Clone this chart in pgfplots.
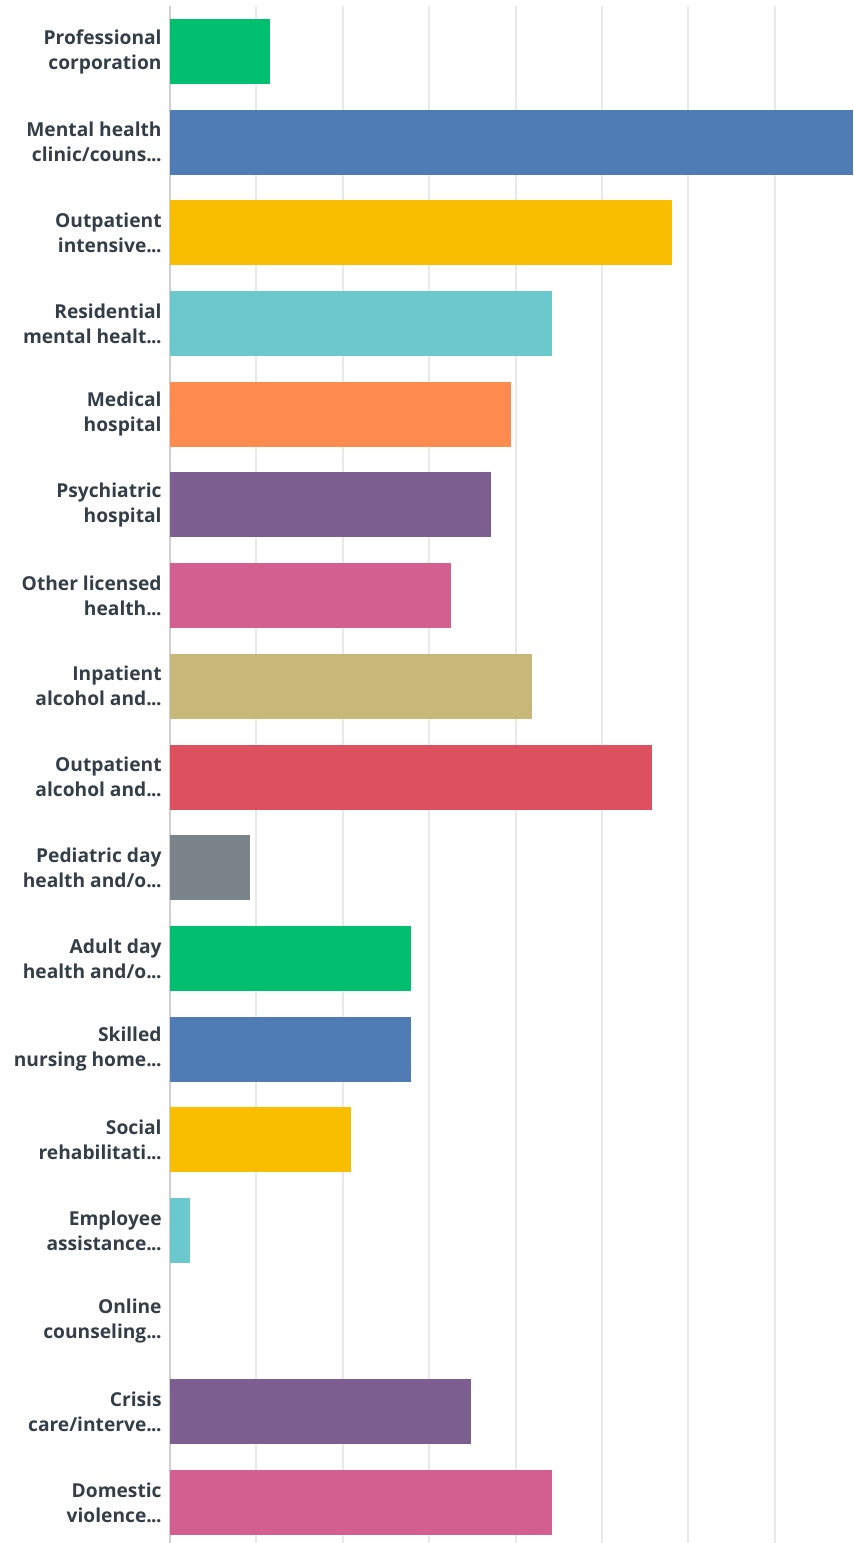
\documentclass[border=0pt]{standalone}
\usepackage{pgfplots}
\pgfplotsset{compat=1.18}
\usepackage{fontspec}
\setmainfont{Open Sans}
\definecolor{txt}{HTML}{333E48}
\definecolor{grd}{HTML}{E9E9E9}
\definecolor{axl}{HTML}{D0D0D0}
\definecolor{c1}{HTML}{00BF6F}
\definecolor{c2}{HTML}{507CB6}
\definecolor{c3}{HTML}{F9BE00}
\definecolor{c4}{HTML}{6BC8CD}
\definecolor{c5}{HTML}{FF8B4F}
\definecolor{c6}{HTML}{7D5E90}
\definecolor{c7}{HTML}{D25F90}
\definecolor{c8}{HTML}{C7B879}
\definecolor{c9}{HTML}{DC5060}
\definecolor{c10}{HTML}{7B848B}
\newcommand{\el}{.\kern-0.3pt.\kern-0.3pt.}
\begin{document}
\begin{tikzpicture}
\begin{axis}[
  scale only axis, width=341.5pt, height=768.5pt,
  xbar, bar width=32.5pt,
  xmin=0, xmax=79.07,
  ymin=-0.502, ymax=16.447, y dir=reverse,
  axis line style={draw=none},
  xtick={10,20,30,40,50,60,70}, xticklabels={},
  xmajorgrids, grid style={draw=grd, line width=1pt},
  extra x ticks={0}, extra x tick labels={},
  extra x tick style={grid style={draw=axl, line width=1pt}},
  major tick length=0pt,
  ytick={0,1,2,3,4,5,6,7,8,9,10,11,12,13,14,15,16},
  yticklabels={
    {Professional\\corporation},
    {Mental health\\clinic/couns\el},
    {Outpatient\\intensive\el},
    {Residential\\mental healt\el},
    {Medical\\hospital},
    {Psychiatric\\hospital},
    {Other licensed\\health\el},
    {Inpatient\\alcohol and\el},
    {Outpatient\\alcohol and\el},
    {Pediatric day\\health and/o\el},
    {Adult day\\health and/o\el},
    {Skilled\\nursing home\el},
    {Social\\rehabilitati\el},
    {Employee\\assistance\el},
    {Online\\counseling\el},
    {Crisis\\care/interve\el},
    {Domestic\\violence\el}},
  yticklabel style={align=right, inner sep=0pt, xshift=-4pt,
    font=\fontsize{9.6}{12.5}\selectfont\bfseries, text=txt},
  every axis plot/.append style={draw=none, bar shift=0pt},
]
\addplot[fill=c1] coordinates {(11.63,0)};
\addplot[fill=c2] coordinates {(79.07,1)};
\addplot[fill=c3] coordinates {(58.14,2)};
\addplot[fill=c4] coordinates {(44.19,3)};
\addplot[fill=c5] coordinates {(39.53,4)};
\addplot[fill=c6] coordinates {(37.21,5)};
\addplot[fill=c7] coordinates {(32.56,6)};
\addplot[fill=c8] coordinates {(41.86,7)};
\addplot[fill=c9] coordinates {(55.81,8)};
\addplot[fill=c10] coordinates {(9.30,9)};
\addplot[fill=c1] coordinates {(27.91,10)};
\addplot[fill=c2] coordinates {(27.91,11)};
\addplot[fill=c3] coordinates {(20.93,12)};
\addplot[fill=c4] coordinates {(2.33,13)};
\addplot[fill=none] coordinates {(0,14)};
\addplot[fill=c6] coordinates {(34.88,15)};
\addplot[fill=c7] coordinates {(44.19,16)};
\coordinate (ll) at (rel axis cs:0,0);
\coordinate (ur) at (rel axis cs:1,1);
\end{axis}
\pgfresetboundingbox
\path[use as bounding box] ([xshift=-85pt]ll) rectangle ([yshift=3pt]ur);
\end{tikzpicture}
\end{document}
